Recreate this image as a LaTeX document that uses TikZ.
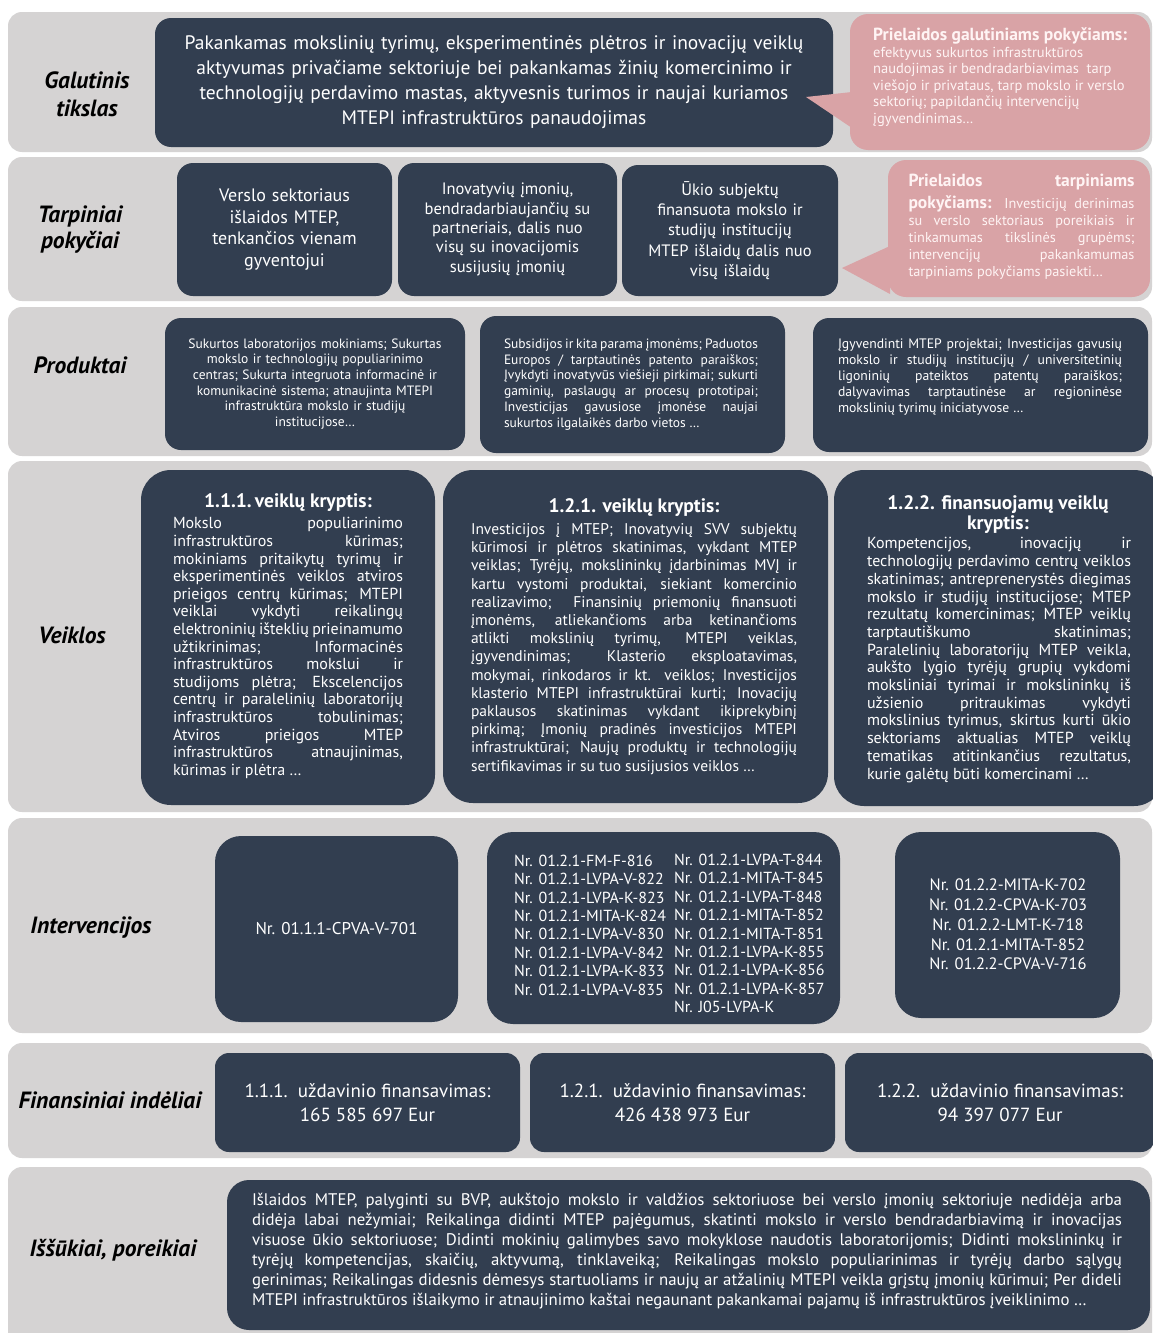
\documentclass[tikz,border=0pt]{standalone}
\usepackage{fontspec}
\setmainfont{PT Sans}
\definecolor{bandgray}{HTML}{D5D3D3}
\definecolor{navy}{HTML}{323E50}
\definecolor{rose}{HTML}{D9A3A6}
\definecolor{rosetext}{HTML}{FFF4F4}
\newcommand\fsz[2]{\fontsize{#1}{#2}\selectfont}
\begin{document}
\begin{tikzpicture}[x=1pt,y=-1pt,
 band/.style={fill=bandgray, rounded corners=14pt, inner sep=0pt},
 navybox/.style={fill=navy, rounded corners=16pt, inner sep=0pt, text=white, align=center},
 bignavy/.style={navybox, rounded corners=30pt},
 rosebox/.style={fill=rose, rounded corners=18pt, inner sep=0pt},
 rowlabel/.style={font=\fsz{23.5}{28}\bfseries\itshape, align=center, inner sep=0pt},
 wtxt/.style={text=white, inner sep=0pt},
 rtxt/.style={text=rosetext, inner sep=0pt},
]
\useasboundingbox (0,0) rectangle (1153,1333);
\clip (0,0) rectangle (1153,1333);
\fill[white] (0,0) rectangle (1153,1333);

% bands
\node[band, minimum width=1144pt, minimum height=140pt] (b1) at (580,82) {};
\node[band, minimum width=1144pt, minimum height=144pt] (b2) at (580,229) {};
\node[band, minimum width=1144pt, minimum height=149pt] (b3) at (580,381.5) {};
\node[band, minimum width=1144pt, minimum height=351pt] (b4) at (580,636.5) {};
\node[band, minimum width=1144pt, minimum height=215pt] (b5) at (580,925.5) {};
\node[band, minimum width=1144pt, minimum height=115pt] (b6) at (580,1100.5) {};
\node[band, minimum width=1144pt, minimum height=180pt] (b7) at (580,1257) {};

% row labels
\node[rowlabel] (l1) at (87,94) {Galutinis\\tikslas};
\node[rowlabel, font=\fsz{23.5}{26}\bfseries\itshape] (l2) at (80,230) {Tarpiniai\\pokyčiai};
\node[rowlabel] (l3) at (80,365) {Produktai};
\node[rowlabel] (l4) at (72,635) {Veiklos};
\node[rowlabel] (l5) at (91,928) {Intervencijos};
\node[rowlabel] (l6) at (110,1100) {Finansiniai indėliai};
\node[rowlabel] (l7) at (113,1250) {Iššūkiai, poreikiai};

% Galutinis tikslas
\node[navybox, minimum width=678pt, minimum height=129pt, text width=660pt, font=\fsz{19.5}{25}] (goal) at (494,82.5)
 {Pakankamas mokslinių tyrimų, eksperimentinės plėtros ir inovacijų veiklų\\
  aktyvumas privačiame sektoriuje bei pakankamas žinių komercinimo ir\\
  technologijų perdavimo mastas, aktyvesnis turimos ir naujai kuriamos\\
  MTEPI infrastruktūros panaudojimas};
\node[rosebox, minimum width=300pt, minimum height=136pt] (call1) at (1000,82) {};
\coordinate (tip1) at (806,97);
\fill[rose] (852,92) -- (tip1) -- (852,128) -- cycle;
\node[rtxt, font=\fsz{17.5}{20}\bfseries, anchor=west] (call1t) at (873,36) {Prielaidos galutiniams pokyčiams:};
\node[rtxt, font=\fsz{14.5}{16.5}, align=left, anchor=north west] (call1b) at (873,47)
 {efektyvus sukurtos infrastruktūros\\
  naudojimas ir bendradarbiavimas\ \ tarp\\
  viešojo ir privataus, tarp mokslo ir verslo\\
  sektorių; papildančių intervencijų\\
  įgyvendinimas…};

% Tarpiniai pokyciai
\node[navybox, minimum width=215pt, minimum height=133pt, text width=205pt, font=\fsz{18}{21.7}] (t1) at (284.5,229.5)
 {Verslo sektoriaus\\išlaidos MTEP,\\tenkančios vienam\\gyventojui};
\node[navybox, minimum width=219pt, minimum height=133pt, text width=212pt, font=\fsz{16.5}{19.3}] (t2) at (507.5,229.5)
 {Inovatyvių įmonių,\\bendradarbiaujančių su\\partneriais, dalis nuo\\visų su inovacijomis\\susijusių įmonių};
\node[navybox, minimum width=216pt, minimum height=131pt, text width=210pt, font=\fsz{16.5}{20.2}] (t3) at (730,230.5)
 {Ūkio subjektų\\finansuota mokslo ir\\studijų institucijų\\MTEP išlaidų dalis nuo\\visų išlaidų};
\node[rosebox, minimum width=262pt, minimum height=137pt] (call2) at (1019,228.5) {};
\coordinate (tip2) at (842,268);
\fill[rose] (890,246) -- (tip2) -- (890,294) -- cycle;
\node[rtxt, font=\fsz{17.5}{20}\bfseries, text width=226pt, align=left] (call2t) at (1021.5,182) {Prielaidos\hfill tarpiniams};
\node[rtxt, font=\fsz{14.3}{17}, text width=226pt, align=justify] (call2b) at (1021.5,238)
 {{\fsz{17.5}{17}\bfseries pokyčiams:} Investicijų derinimas \linebreak
  su verslo sektoriaus poreikiais ir \linebreak
  tinkamumas tikslinės grupėms; \linebreak
  intervencijų pakankamumas \linebreak
  tarpiniams pokyčiams pasiekti…};

% Produktai
\node[navybox, minimum width=300pt, minimum height=132pt, text width=285pt, font=\fsz{13.5}{15.6}] (p1) at (315,384)
 {Sukurtos laboratorijos mokiniams; Sukurtas\\
  mokslo ir technologijų populiarinimo\\
  centras; Sukurta integruota informacinė ir\\
  komunikacinė sistema; atnaujinta MTEPI\\
  infrastruktūra mokslo ir studijų\\
  institucijose…};
\node[navybox, minimum width=305pt, minimum height=137pt] (p2) at (632.5,384.5) {};
\node[wtxt, text width=254pt, align=justify, font=\fsz{13.5}{15.8}] (p2t) at (631,384.5)
 {Subsidijos ir kita parama įmonėms; Paduotos \linebreak
  Europos / tarptautinės patento paraiškos; \linebreak
  Įvykdyti inovatyvūs viešieji pirkimai; sukurti \linebreak
  gaminių, paslaugų ar procesų prototipai; \linebreak
  Investicijas gavusiose įmonėse naujai \linebreak
  sukurtos ilgalaikės darbo vietos …};
\node[navybox, minimum width=335pt, minimum height=134pt] (p3) at (980.5,385) {};
\node[wtxt, text width=284pt, align=justify, font=\fsz{13.7}{16}] (p3t) at (980,377)
 {Įgyvendinti MTEP projektai; Investicijas gavusių \linebreak
  mokslo ir studijų institucijų / universitetinių \linebreak
  ligoninių pateiktos patentų paraiškos; \linebreak
  dalyvavimas tarptautinėse ar regioninėse \linebreak
  mokslinių tyrimų iniciatyvose …};

% Veiklos
\node[bignavy, minimum width=294pt, minimum height=335pt] (v1) at (288,637.5) {};
\node[wtxt, font=\fsz{19.5}{21}\bfseries] (v1t) at (288,503) {1.1.1.\,veiklų kryptis:};
\node[wtxt, text width=230pt, align=justify, font=\fsz{16}{17.6}] (v1b) at (288,648)
 {Mokslo populiarinimo \linebreak
  infrastruktūros kūrimas; \linebreak
  mokiniams pritaikytų tyrimų ir \linebreak
  eksperimentinės veiklos atviros \linebreak
  prieigos centrų kūrimas; MTEPI \linebreak
  veiklai vykdyti reikalingų \linebreak
  elektroninių išteklių prieinamumo \linebreak
  užtikrinimas; Informacinės \linebreak
  infrastruktūros mokslui ir \linebreak
  studijoms plėtra; Ekscelencijos \linebreak
  centrų ir paralelinių laboratorijų \linebreak
  infrastruktūros tobulinimas; \linebreak
  Atviros prieigos MTEP \linebreak
  infrastruktūros atnaujinimas, \linebreak
  kūrimas ir plėtra …};

\node[bignavy, minimum width=385pt, minimum height=333pt] (v2) at (635.5,636.5) {};
\node[wtxt, font=\fsz{19.5}{21}\bfseries] (v2t) at (634,508) {1.2.1. veiklų kryptis:};
\node[wtxt, text width=326pt, align=justify, font=\fsz{15.5}{18.2}] (v2b) at (634,649)
 {Investicijos į MTEP; Inovatyvių SVV subjektų \linebreak
  kūrimosi ir plėtros skatinimas, vykdant MTEP \linebreak
  veiklas; Tyrėjų, mokslininkų įdarbinimas MVĮ ir \linebreak
  kartu vystomi produktai, siekiant komercinio \linebreak
  realizavimo;\ \ Finansinių priemonių finansuoti \linebreak
  įmonėms, atliekančioms arba ketinančioms \linebreak
  atlikti mokslinių tyrimų, MTEPI veiklas, \linebreak
  įgyvendinimas; Klasterio eksploatavimas, \linebreak
  mokymai, rinkodaros ir kt. veiklos; Investicijos \linebreak
  klasterio MTEPI infrastruktūrai kurti; Inovacijų \linebreak
  paklausos skatinimas vykdant ikiprekybinį \linebreak
  pirkimą; Įmonių pradinės investicijos MTEPI \linebreak
  infrastruktūrai; Naujų produktų ir technologijų \linebreak
  sertifikavimas ir su tuo susijusios veiklos …};

\node[bignavy, minimum width=330pt, minimum height=336pt] (v3) at (999,638) {};
\node[wtxt, font=\fsz{19.5}{19.5}\bfseries, align=center] (v3t) at (998,514.5) {1.2.2. finansuojamų veiklų\\kryptis:};
\node[wtxt, text width=264pt, align=justify, font=\fsz{16}{17.7}] (v3b) at (999,660)
 {Kompetencijos, inovacijų ir \linebreak
  technologijų perdavimo centrų veiklos \linebreak
  skatinimas; antreprenerystės diegimas \linebreak
  mokslo ir studijų institucijose; MTEP \linebreak
  rezultatų komercinimas; MTEP veiklų \linebreak
  tarptautiškumo skatinimas; \linebreak
  Paralelinių laboratorijų MTEP veikla, \linebreak
  aukšto lygio tyrėjų grupių vykdomi \linebreak
  moksliniai tyrimai ir mokslininkų iš \linebreak
  užsienio pritraukimas vykdyti \linebreak
  mokslinius tyrimus, skirtus kurti ūkio \linebreak
  sektoriams aktualias MTEP veiklų \linebreak
  tematikas atitinkančius rezultatus, \linebreak
  kurie galėtų būti komercinami …};

% Intervencijos
\node[navybox, rounded corners=26pt, minimum width=243pt, minimum height=186pt, font=\fsz{17}{18}] (i1) at (336.5,929) {Nr. 01.1.1-CPVA-V-701};
\node[navybox, rounded corners=26pt, minimum width=353pt, minimum height=192pt] (i2) at (663.5,928) {};
\node[wtxt, align=left, font=\fsz{16}{18.4}, anchor=west] (i2a) at (514,925)
 {Nr. 01.2.1-FM-F-816\\Nr. 01.2.1-LVPA-V-822\\Nr. 01.2.1-LVPA-K-823\\Nr. 01.2.1-MITA-K-824\\
  Nr. 01.2.1-LVPA-V-830\\Nr. 01.2.1-LVPA-V-842\\Nr. 01.2.1-LVPA-K-833\\Nr. 01.2.1-LVPA-V-835};
\node[wtxt, align=left, font=\fsz{16}{18.4}, anchor=west] (i2b) at (674,933.5)
 {Nr. 01.2.1-LVPA-T-844\\Nr. 01.2.1-MITA-T-845\\Nr. 01.2.1-LVPA-T-848\\Nr. 01.2.1-MITA-T-852\\
  Nr. 01.2.1-MITA-T-851\\Nr. 01.2.1-LVPA-K-855\\Nr. 01.2.1-LVPA-K-856\\Nr. 01.2.1-LVPA-K-857\\Nr. J05-LVPA-K};
\node[navybox, rounded corners=26pt, minimum width=225pt, minimum height=186pt] (i3) at (1007.5,925) {};
\node[wtxt, align=center, font=\fsz{16.5}{19.8}] (i3t) at (1008,924.5)
 {Nr. 01.2.2-MITA-K-702\\Nr. 01.2.2-CPVA-K-703\\Nr. 01.2.2-LMT-K-718\\Nr. 01.2.1-MITA-T-852\\Nr. 01.2.2-CPVA-V-716};

% Finansiniai indeliai
\node[navybox, rounded corners=14pt, minimum width=305pt, minimum height=99pt, font=\fsz{19}{24}] (f1) at (367.5,1102.5) {1.1.1.\ \ uždavinio finansavimas:\\165 585 697 Eur};
\node[navybox, rounded corners=14pt, minimum width=305pt, minimum height=99pt, font=\fsz{19}{24}] (f2) at (682.5,1102.5) {1.2.1.\ \ uždavinio finansavimas:\\426 438 973 Eur};
\node[navybox, rounded corners=14pt, minimum width=310pt, minimum height=99pt, font=\fsz{19}{24}] (f3) at (1000,1102.5) {1.2.2.\ \ uždavinio finansavimas:\\94 397 077 Eur};

% Issukiai, poreikiai
\node[navybox, rounded corners=22pt, minimum width=923pt, minimum height=150pt] (c1) at (688.5,1255) {};
\node[wtxt, text width=870pt, align=justify, font=\fsz{16.8}{20}] (c1t) at (687,1251)
 {Išlaidos MTEP, palyginti su BVP, aukštojo mokslo ir valdžios sektoriuose bei verslo įmonių sektoriuje nedidėja arba \linebreak
  didėja labai nežymiai; Reikalinga didinti MTEP pajėgumus, skatinti mokslo ir verslo bendradarbiavimą ir inovacijas \linebreak
  visuose ūkio sektoriuose; Didinti mokinių galimybes savo mokyklose naudotis laboratorijomis; Didinti mokslininkų ir \linebreak
  tyrėjų kompetencijas, skaičių, aktyvumą, tinklaveiką; Reikalingas mokslo populiarinimas ir tyrėjų darbo sąlygų \linebreak
  gerinimas; Reikalingas didesnis dėmesys startuoliams ir naujų ar atžalinių MTEPI veikla grįstų įmonių kūrimui; Per dideli \linebreak
  MTEPI infrastruktūros išlaikymo ir atnaujinimo kaštai negaunant pakankamai pajamų iš infrastruktūros įveiklinimo …};
\end{tikzpicture}
\end{document}
